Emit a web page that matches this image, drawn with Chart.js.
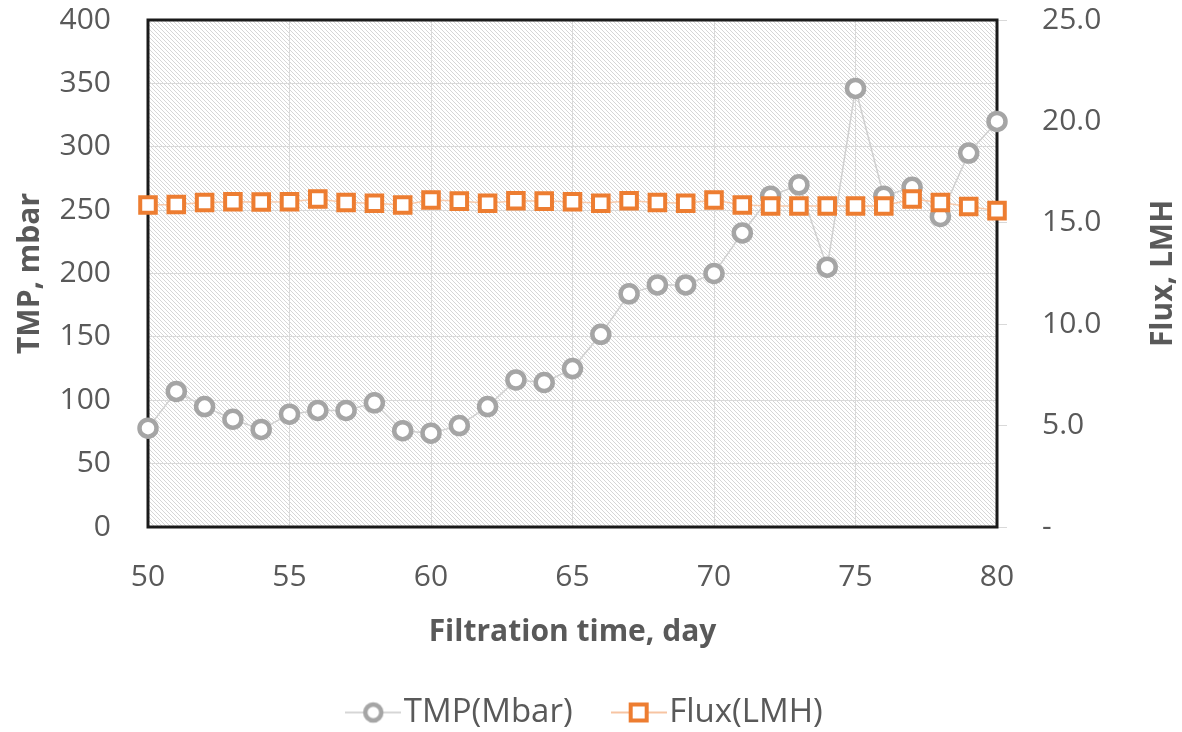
<!DOCTYPE html>
<html>
<head>
<meta charset="utf-8">
<script src="https://cdn.jsdelivr.net/npm/chart.js@4"></script>
<style>
html, body { margin: 0; padding: 0; background: #fff; }
#wrap { width: 1182px; height: 732px; }
</style>
</head>
<body>
<div id="wrap"><canvas id="chart" width="1182" height="732"></canvas></div>
<script>
var days = [50,51,52,53,54,55,56,57,58,59,60,61,62,63,64,65,66,67,68,69,70,71,72,73,74,75,76,77,78,79,80];
var tmp = [78,107,95,85,77,89,92,92,98,76,74,80,95,116,114,125,152,184,191,191,200,232,261,270,205,346,261,268,245,295,320];
var flux = [15.88,15.9,16.0,16.04,16.03,16.04,16.17,16.0,15.96,15.88,16.12,16.07,15.96,16.09,16.07,16.04,15.96,16.09,16.0,15.96,16.12,15.88,15.83,15.83,15.83,15.83,15.83,16.17,16.0,15.8,15.6];
var seriesNames = ['TMP(Mbar)', 'Flux(LMH)'];

var textColor = '#595959';
var gridColor = '#d9d9d9';
var grayMark = '#a5a5a5';
var orange = '#ed7d31';

function toPoints(ys) {
    return days.map(function (d, i) { return { x: d, y: ys[i] }; });
}

// hatched background tile
function makeHatch(ctx) {
    var c = document.createElement('canvas');
    c.width = 4; c.height = 4;
    var g = c.getContext('2d');
    g.strokeStyle = '#d6d6d6';
    g.lineWidth = 1;
    [-4, 0, 4].forEach(function (o) {
        g.beginPath();
        g.moveTo(o - 1, -1);
        g.lineTo(o + 5, 5);
        g.stroke();
    });
    return ctx.createPattern(c, 'repeat');
}

// legend icons: short line with the marker on it
function legendIcon(kind) {
    var c = document.createElement('canvas');
    c.width = 56; c.height = 26;
    var g = c.getContext('2d');
    g.strokeStyle = kind === 'circle' ? '#c9c9c9' : '#f4b183';
    g.lineWidth = 1.5;
    g.beginPath(); g.moveTo(0, 13); g.lineTo(56, 13); g.stroke();
    g.fillStyle = '#fff';
    if (kind === 'circle') {
        g.strokeStyle = grayMark; g.lineWidth = 4.5;
        g.beginPath(); g.arc(28, 13, 8, 0, Math.PI * 2); g.fill(); g.stroke();
    } else {
        g.strokeStyle = orange; g.lineWidth = 4;
        g.fillRect(20, 5, 16, 16); g.strokeRect(20, 5, 16, 16);
    }
    return c;
}
var icons = [legendIcon('circle'), legendIcon('rect')];

var bgPlugin = {
    id: 'bgPlugin',
    beforeDraw: function (chart) {
        var a = chart.chartArea, ctx = chart.ctx;
        ctx.save();
        ctx.fillStyle = '#fff';
        ctx.fillRect(a.left, a.top, a.right - a.left, a.bottom - a.top);
        ctx.fillStyle = makeHatch(ctx);
        ctx.fillRect(a.left, a.top, a.right - a.left, a.bottom - a.top);
        ctx.restore();
    },
    beforeDatasetsDraw: function (chart) {
        var a = chart.chartArea, ctx = chart.ctx;
        ctx.save();
        ctx.strokeStyle = '#1a1a1a';
        ctx.lineWidth = 3;
        ctx.strokeRect(a.left, a.top, a.right - a.left, a.bottom - a.top);
        ctx.restore();
    },
    afterDraw: function (chart) {
        // right axis title reads bottom-to-top like the left one
        var a = chart.chartArea, ctx = chart.ctx;
        ctx.save();
        ctx.translate(1163, (a.top + a.bottom) / 2);
        ctx.rotate(-Math.PI / 2);
        ctx.fillStyle = textColor;
        ctx.font = 'bold 30px "Open Sans"';
        ctx.textAlign = 'center';
        ctx.textBaseline = 'middle';
        ctx.fillText('Flux, LMH', 0, 0);
        ctx.restore();
    }
};

function noVertPad(s) { s.paddingTop = 0; s.paddingBottom = 0; }

var ctx = document.getElementById('chart').getContext('2d');
var chart = new Chart(ctx, {
    type: 'line',
    data: {
        datasets: [{
            label: seriesNames[0],
            data: toPoints(tmp),
            yAxisID: 'y',
            borderColor: '#d0d0d0',
            borderWidth: 1.5,
            pointStyle: 'circle',
            pointRadius: 8.5,
            pointBorderWidth: 4.5,
            pointBorderColor: grayMark,
            pointBackgroundColor: '#fff',
            clip: false,
            order: 2
        }, {
            label: seriesNames[1],
            data: toPoints(flux),
            yAxisID: 'y1',
            borderColor: '#f8cbad',
            borderWidth: 1.5,
            pointStyle: 'rect',
            pointRadius: 11,
            pointBorderWidth: 4,
            pointBorderColor: orange,
            pointBackgroundColor: '#fff',
            clip: false,
            order: 1
        }]
    },
    options: {
        responsive: false,
        animation: false,
        layout: { autoPadding: false, padding: { top: 20, bottom: -7, left: 0, right: 0 } },
        plugins: {
            tooltip: { enabled: false },
            legend: {
                position: 'bottom',
                labels: {
                    color: textColor,
                    font: { family: 'Open Sans', size: 33 },
                    usePointStyle: true,
                    pointStyleWidth: 28,
                    padding: 52,
                    generateLabels: function (ch) {
                        return ch.data.datasets.map(function (ds, i) {
                            return {
                                text: ds.label,
                                pointStyle: icons[i],
                                fontColor: textColor,
                                lineWidth: 0,
                                datasetIndex: i
                            };
                        });
                    }
                }
            }
        },
        scales: {
            x: {
                type: 'linear',
                min: 50,
                max: 80,
                border: { display: false },
                grid: { color: gridColor, lineWidth: 1, drawTicks: false },
                ticks: {
                    stepSize: 5,
                    padding: 32,
                    color: textColor,
                    font: { family: 'Open Sans', size: 30 }
                },
                title: {
                    display: true,
                    text: 'Filtration time, day',
                    color: textColor,
                    padding: { top: 19, bottom: -6 },
                    font: { family: 'Open Sans', size: 30, weight: 'bold' }
                },
                afterFit: function (s) { s.height = 117; }
            },
            y: {
                position: 'left',
                min: 0,
                max: 400,
                border: { display: false },
                grid: { color: gridColor, lineWidth: 1, drawTicks: false },
                ticks: {
                    stepSize: 50,
                    padding: 37,
                    color: textColor,
                    font: { family: 'Open Sans', size: 30 }
                },
                title: {
                    display: true,
                    text: 'TMP, mbar',
                    color: textColor,
                    padding: { top: 12, bottom: 0 },
                    font: { family: 'Open Sans', size: 30, weight: 'bold' }
                },
                afterFit: function (s) { s.width = 148; noVertPad(s); }
            },
            y1: {
                position: 'right',
                min: 0,
                max: 25,
                border: { display: false },
                grid: { drawOnChartArea: false, color: gridColor, tickLength: 10 },
                ticks: {
                    stepSize: 5,
                    padding: 35,
                    color: textColor,
                    font: { family: 'Open Sans', size: 30 },
                    callback: function (v) { return v === 0 ? '-' : v.toFixed(1); }
                },
                afterFit: function (s) { s.width = 185; noVertPad(s); }
            }
        }
    },
    plugins: [bgPlugin]
});
</script>
</body>
</html>
